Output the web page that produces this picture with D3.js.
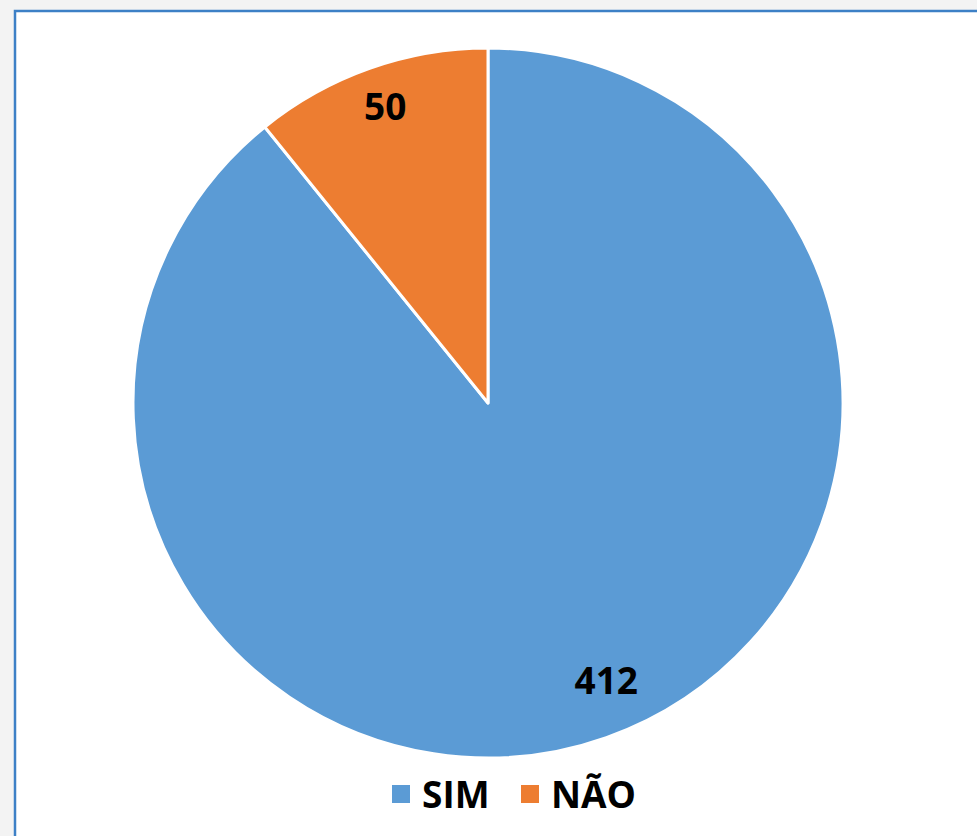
<!DOCTYPE html>
<html><head><meta charset="utf-8">
<script src="https://cdn.jsdelivr.net/npm/d3@7"></script>
<style>html,body{margin:0;padding:0;background:#f3f3f3;}svg{display:block;}</style>
</head><body>
<svg id="c" width="977" height="836"></svg>
<script>
const categories = ["SIM", "NÃO"];
const values = [412, 50];
const colors = ["#5B9BD5", "#ED7D31"];

const svg = d3.select("#c");
svg.append("rect").attr("x", 0).attr("y", 0).attr("width", 977).attr("height", 836).attr("fill", "#f3f3f3");
svg.append("rect").attr("x", 15).attr("y", 11).attr("width", 1000).attr("height", 900)
  .attr("fill", "#ffffff").attr("stroke", "#3d80c6").attr("stroke-width", 2.5);

const cx = 488, cy = 403, r = 355;
const data = categories.map((c, i) => ({ cat: c, value: values[i], color: colors[i] }));
const pie = d3.pie().value(d => d.value).sort(null);
const arcs = pie(data);
const arc = d3.arc().innerRadius(0).outerRadius(r);
const g = svg.append("g").attr("transform", `translate(${cx},${cy})`);
g.selectAll("path").data(arcs).enter().append("path")
  .attr("d", arc).attr("fill", d => d.data.color)
  .attr("stroke", "#ffffff").attr("stroke-width", 3).attr("stroke-linejoin", "round");

const labelR = [0.83, 0.885];
const labelDx = [20, 2];
g.selectAll("text.lbl").data(arcs).enter().append("text")
  .attr("class", "lbl")
  .attr("transform", (d, i) => {
    const a = (d.startAngle + d.endAngle) / 2;
    const rr = r * labelR[i];
    return `translate(${rr * Math.sin(a) + labelDx[i]},${-rr * Math.cos(a)})`;
  })
  .attr("text-anchor", "middle").attr("dy", "0.36em")
  .style("font-family", "'Open Sans', 'Noto Sans', sans-serif")
  .style("font-weight", "700").style("font-size", "37px").attr("fill", "#000")
  .text(d => d.data.value);

// legend
const legend = svg.append("g");
const lx = [392, 521];
categories.forEach((c, i) => {
  legend.append("rect").attr("x", lx[i]).attr("y", 785).attr("width", 18).attr("height", 18).attr("fill", colors[i]);
  legend.append("text").attr("x", lx[i] + 30).attr("y", 808)
    .style("font-family", "'Open Sans', 'Noto Sans', sans-serif")
    .style("font-weight", "700").style("font-size", "37px").attr("fill", "#000")
    .text(c);
});
</script>
</body></html>
